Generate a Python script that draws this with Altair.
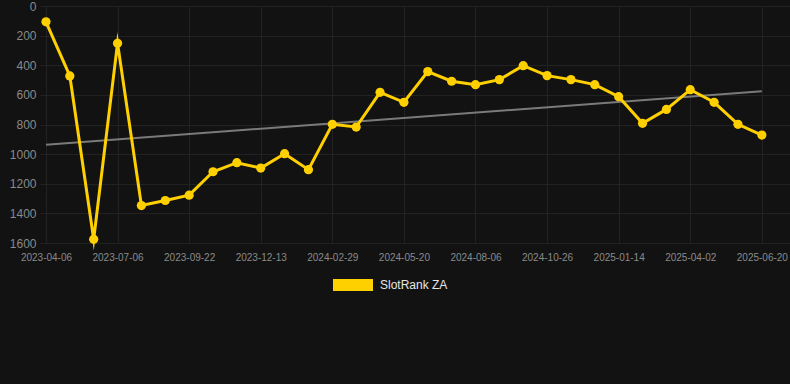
import json
import altair as alt
import pandas as pd

# x tick labels (every third observation is labelled)
tick_labels = ["2023-04-06", "2023-07-06", "2023-09-22", "2023-12-13", "2024-02-29",
               "2024-05-20", "2024-08-06", "2024-10-26", "2025-01-14", "2025-04-02",
               "2025-06-20"]
ranks = [107, 472, 1575, 252, 1347, 1313, 1277, 1119, 1058, 1094, 997, 1105, 799, 817,
         583, 650, 443, 508, 531, 497, 403, 470, 497, 531, 612, 792, 698, 565, 650, 799, 871]
series_name = "SlotRank ZA"

df = pd.DataFrame({"idx": list(range(len(ranks))), "rank": ranks, "series": series_name})

label_expr = f"{json.dumps(tick_labels)}[round(datum.value / 3)]"

x_enc = alt.X("idx:Q",
              scale=alt.Scale(domain=[-0.25, 31.18], nice=False, zero=False),
              axis=alt.Axis(values=list(range(0, 31, 3)), labelExpr=label_expr, title=None,
                            grid=True, gridColor="#222222", domain=False, ticks=False,
                            labelColor="#8a8a8a", labelFontSize=10, labelPadding=9,
                            labelFont="Liberation Sans", labelFlush=False,
                            labelOverlap=False))
y_enc = alt.Y("rank:Q",
              scale=alt.Scale(domain=[0, 1600], reverse=True, nice=False, zero=False),
              axis=alt.Axis(values=list(range(0, 1601, 200)), title=None, grid=True,
                            gridColor="#222222", domain=False, ticks=False, format="d",
                            labelColor="#8a8a8a", labelFontSize=12, labelPadding=4,
                            labelFont="Liberation Sans", labelFlush=False,
                            labelOverlap=False))

base = alt.Chart(df)

trend = base.transform_regression("idx", "rank").mark_line(
    color="#7a7a7a", strokeWidth=2
).encode(x=x_enc, y=y_enc)

line = base.mark_line(color="#FFD000", strokeWidth=3, strokeJoin="miter",
                      strokeMiterLimit=10).encode(x=x_enc, y=y_enc)

points = base.mark_circle(size=85, opacity=1).encode(
    x=x_enc, y=y_enc,
    color=alt.Color("series:N",
                    scale=alt.Scale(domain=[series_name], range=["#FFD000"]),
                    legend=alt.Legend(title=None, orient="none", legendX=293, legendY=259,
                                      symbolType="M-1,-0.3L1,-0.3L1,0.3L-1,0.3Z",
                                      symbolSize=1600, symbolStrokeWidth=0,
                                      symbolOpacity=1, labelColor="#e6e6e6",
                                      labelFontSize=12, labelFont="Liberation Sans",
                                      labelOffset=7, padding=0))
)

chart = alt.layer(trend, line, points).properties(
    width=750, height=237,
    background="#121212",
    autosize=alt.AutoSizeParams(type="none"),
    padding={"left": 40, "top": 6, "right": 0, "bottom": 141},
).configure_view(stroke=None)

chart.save("out.html", embed_options={"renderer": "svg", "actions": False})
